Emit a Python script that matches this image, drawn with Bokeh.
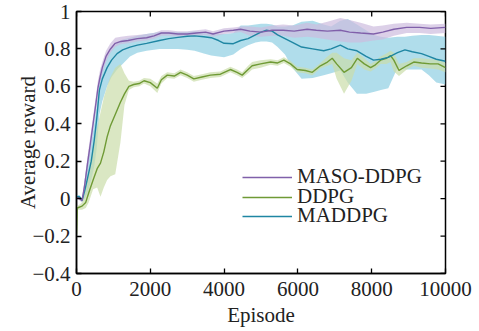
import math
from bokeh.plotting import figure
from bokeh.models import Range1d, FixedTicker, CustomJSTickFormatter, Legend, LegendItem
from bokeh.embed import file_html
from bokeh.resources import INLINE

# ---------------- data ----------------
x_ticks = [0, 2000, 4000, 6000, 8000, 10000]
y_ticks = [-0.4, -0.2, 0, 0.2, 0.4, 0.6, 0.8, 1.0]
series_names = ["MASO-DDPG", "DDPG", "MADDPG"]

maso_ep = [0, 50, 150, 220, 300, 380, 450, 520, 580, 640, 700, 800, 920, 1050, 1200,
           1400, 1650, 1900, 2100, 2300, 2500, 2750, 3000, 3250, 3500, 3700, 4000, 4250,
           4450, 4700, 5000, 5300, 5600, 5900, 6250, 6500, 6800, 7150, 7400, 7700, 8050,
           8300, 8600, 8950, 9300, 9600, 10000]
maso = [0.0, 0.005, -0.01, 0.07, 0.19, 0.30, 0.40, 0.50, 0.59, 0.65, 0.70, 0.76, 0.80, 0.83, 0.84,
        0.845, 0.855, 0.86, 0.87, 0.885, 0.885, 0.88, 0.88, 0.885, 0.89, 0.88, 0.895, 0.90,
        0.905, 0.895, 0.89, 0.90, 0.90, 0.895, 0.905, 0.90, 0.895, 0.90, 0.89, 0.885, 0.88,
        0.89, 0.905, 0.915, 0.915, 0.91, 0.915]
maso_lo = [-0.01, -0.005, -0.02, 0.04, 0.15, 0.26, 0.36, 0.46, 0.55, 0.62, 0.67, 0.73, 0.78, 0.81, 0.825,
           0.83, 0.84, 0.845, 0.855, 0.87, 0.87, 0.865, 0.865, 0.87, 0.875, 0.865, 0.88, 0.885,
           0.89, 0.87, 0.865, 0.87, 0.87, 0.86, 0.865, 0.86, 0.85, 0.84, 0.835, 0.835, 0.845,
           0.85, 0.87, 0.885, 0.885, 0.88, 0.885]
maso_hi = [0.01, 0.015, 0.0, 0.10, 0.23, 0.34, 0.44, 0.54, 0.63, 0.69, 0.73, 0.79, 0.83, 0.86, 0.865,
           0.87, 0.875, 0.88, 0.885, 0.90, 0.90, 0.895, 0.895, 0.90, 0.905, 0.895, 0.91, 0.915,
           0.92, 0.92, 0.915, 0.925, 0.93, 0.925, 0.94, 0.93, 0.945, 0.965, 0.955, 0.94, 0.92,
           0.925, 0.935, 0.94, 0.935, 0.93, 0.935]

ddpg_ep = [0, 20, 150, 250, 330, 450, 560, 650, 740, 830, 920, 1050, 1190, 1300, 1420,
           1550, 1700, 1830, 2000, 2190, 2300, 2460, 2650, 2820, 3000, 3180, 3400, 3630,
           3900, 4170, 4350, 4490, 4650, 4760, 4990, 5260, 5450, 5620, 5800, 5980, 6200,
           6390, 6610, 6800, 6930, 7050, 7250, 7450, 7610, 7800, 7970, 8100, 8240, 8400,
           8510, 8600, 8740, 8950, 9140, 9350, 9590, 9800, 10000]
ddpg = [-0.19, -0.05, -0.04, -0.02, 0.03, 0.10, 0.16, 0.19, 0.25, 0.33, 0.39, 0.45, 0.515, 0.56, 0.60,
        0.61, 0.615, 0.63, 0.62, 0.59, 0.635, 0.66, 0.655, 0.675, 0.66, 0.64, 0.65, 0.66,
        0.665, 0.69, 0.675, 0.66, 0.69, 0.71, 0.72, 0.73, 0.725, 0.74, 0.72, 0.69, 0.685,
        0.675, 0.71, 0.73, 0.75, 0.72, 0.675, 0.70, 0.75, 0.72, 0.70, 0.715, 0.74, 0.75,
        0.765, 0.74, 0.685, 0.71, 0.73, 0.725, 0.72, 0.72, 0.70]
ddpg_lo = [-0.20, -0.06, -0.06, -0.05, -0.02, 0.05, 0.06, 0.01, 0.06, 0.10, 0.12, 0.13, 0.30, 0.50, 0.58,
           0.595, 0.60, 0.615, 0.60, 0.565, 0.615, 0.645, 0.64, 0.66, 0.645, 0.625, 0.635, 0.645,
           0.65, 0.675, 0.66, 0.645, 0.67, 0.69, 0.70, 0.715, 0.71, 0.725, 0.705, 0.675, 0.67,
           0.66, 0.695, 0.71, 0.72, 0.64, 0.56, 0.63, 0.72, 0.69, 0.68, 0.695, 0.72, 0.72,
           0.73, 0.68, 0.655, 0.69, 0.71, 0.70, 0.695, 0.69, 0.675]
ddpg_hi = [-0.18, -0.04, -0.02, 0.05, 0.15, 0.28, 0.38, 0.46, 0.54, 0.60, 0.65, 0.70, 0.72, 0.67, 0.63,
           0.625, 0.63, 0.645, 0.64, 0.615, 0.655, 0.675, 0.67, 0.69, 0.675, 0.655, 0.665, 0.675,
           0.68, 0.705, 0.69, 0.675, 0.71, 0.73, 0.74, 0.745, 0.74, 0.755, 0.735, 0.705, 0.70,
           0.69, 0.725, 0.76, 0.78, 0.78, 0.75, 0.74, 0.78, 0.75, 0.72, 0.735, 0.76, 0.775,
           0.79, 0.78, 0.72, 0.73, 0.75, 0.75, 0.745, 0.745, 0.725]

madd_ep = [0, 80, 150, 220, 300, 400, 480, 550, 620, 700, 830, 950, 1100, 1250, 1450,
           1650, 1900, 2250, 2500, 2750, 3000, 3200, 3450, 3650, 3850, 4000, 4250, 4450,
           4650, 4850, 5000, 5150, 5300, 5450, 5650, 5850, 6100, 6400, 6700, 6900, 7150,
           7350, 7600, 7850, 8050, 8250, 8450, 8700, 8900, 9100, 9350, 9550, 9750, 10000]
madd = [0.01, 0.01, -0.01, 0.04, 0.11, 0.20, 0.31, 0.43, 0.58, 0.64, 0.70, 0.74, 0.775, 0.795, 0.81,
        0.82, 0.83, 0.845, 0.855, 0.862, 0.868, 0.87, 0.865, 0.86, 0.845, 0.83, 0.828, 0.845,
        0.855, 0.875, 0.89, 0.90, 0.895, 0.875, 0.855, 0.835, 0.81, 0.80, 0.79, 0.80, 0.82,
        0.80, 0.79, 0.76, 0.74, 0.745, 0.755, 0.78, 0.795, 0.785, 0.775, 0.76, 0.745, 0.734]
madd_lo = [0.0, 0.0, -0.02, 0.0, 0.03, 0.10, 0.17, 0.27, 0.45, 0.52, 0.60, 0.65, 0.69, 0.72, 0.76,
           0.78, 0.79, 0.80, 0.80, 0.80, 0.795, 0.79, 0.775, 0.765, 0.76, 0.755, 0.77, 0.80,
           0.82, 0.835, 0.84, 0.84, 0.835, 0.81, 0.77, 0.70, 0.64, 0.645, 0.66, 0.67, 0.685,
           0.62, 0.56, 0.56, 0.57, 0.58, 0.59, 0.70, 0.69, 0.69, 0.69, 0.66, 0.62, 0.61]
madd_hi = [0.02, 0.02, 0.0, 0.10, 0.20, 0.30, 0.40, 0.50, 0.62, 0.69, 0.76, 0.80, 0.83, 0.85, 0.86,
           0.87, 0.88, 0.89, 0.89, 0.89, 0.89, 0.895, 0.89, 0.885, 0.88, 0.88, 0.885, 0.925,
           0.925, 0.93, 0.935, 0.935, 0.93, 0.92, 0.92, 0.925, 0.945, 0.95, 0.93, 0.92, 0.95,
           0.96, 0.93, 0.90, 0.875, 0.865, 0.86, 0.865, 0.865, 0.87, 0.875, 0.875, 0.87, 0.865]

# ---------------- styling ----------------
FONT = "Liberation Serif"
FS = "21px"
TXT = "#222222"
line_colors = {"MASO-DDPG": "#8060aa", "DDPG": "#6f9a35", "MADDPG": "#1f86a3"}
band_colors = {"MASO-DDPG": "#cdbcde", "DDPG": "#cadda9", "MADDPG": "#8fcfe2"}

X0, X1 = 0, 10000
Y0, Y1 = -0.4, 1.0

p = figure(frame_width=369, frame_height=262, output_backend="svg", toolbar_location=None,
           x_range=Range1d(X0, X1), y_range=Range1d(Y0, Y1),
           min_border_left=76, min_border_right=30, min_border_top=11, min_border_bottom=56)
p.grid.visible = False
p.outline_line_color = "black"
p.outline_line_width = 1.5
p.background_fill_color = "white"
p.border_fill_color = "white"

# bands
p.varea(x=madd_ep, y1=madd_lo, y2=madd_hi, fill_color=band_colors["MADDPG"], fill_alpha=0.7)
p.varea(x=ddpg_ep, y1=ddpg_lo, y2=ddpg_hi, fill_color=band_colors["DDPG"], fill_alpha=0.7)
p.varea(x=maso_ep, y1=maso_lo, y2=maso_hi, fill_color=band_colors["MASO-DDPG"], fill_alpha=0.7)

# lines
r_ddpg = p.line(ddpg_ep, ddpg, line_color=line_colors["DDPG"], line_width=1.4)
r_madd = p.line(madd_ep, madd, line_color=line_colors["MADDPG"], line_width=1.4)
r_maso = p.line(maso_ep, maso, line_color=line_colors["MASO-DDPG"], line_width=1.4)

# inward ticks on the top and right edges (clipped to the frame -> half visible)
p.scatter(x=x_ticks, y=[Y1] * len(x_ticks), marker="dash", angle=math.pi / 2, size=10,
          line_color="black", line_width=1.3)
p.scatter(x=[X1] * len(y_ticks), y=y_ticks, marker="dash", angle=0, size=10,
          line_color="black", line_width=1.3)

# axes
fmt = CustomJSTickFormatter(code="""
const v = Math.round(tick*10)/10;
return (v < 0 ? "\u2212" : "") + Math.abs(v).toString();
""")

for ax in (p.xaxis[0], p.yaxis[0]):
    ax.major_tick_in = 5
    ax.major_tick_out = 0
    ax.minor_tick_in = 0
    ax.minor_tick_out = 0
    ax.axis_line_color = "black"
    ax.axis_line_width = 1.5
    ax.major_tick_line_width = 1.3
    ax.major_tick_line_color = "black"
    ax.major_label_text_font = FONT
    ax.major_label_text_font_size = FS
    ax.major_label_text_color = TXT
    ax.axis_label_text_font = FONT
    ax.axis_label_text_font_size = FS
    ax.axis_label_text_font_style = "normal"
    ax.axis_label_text_color = TXT

xa = p.xaxis[0]
xa.ticker = FixedTicker(ticks=x_ticks)
xa.axis_label = "Episode"
xa.major_label_standoff = 8
xa.axis_label_standoff = 4

ya = p.yaxis[0]
ya.ticker = FixedTicker(ticks=y_ticks)
ya.formatter = fmt
ya.axis_label = "Average reward"
ya.major_label_standoff = 6
ya.axis_label_standoff = -11

# legend: one row per entry so the row pitch matches the reference
rows = [(series_names[0], r_maso, 84), (series_names[1], r_ddpg, 64), (series_names[2], r_madd, 45)]
for name, rend, ybot in rows:
    lg = Legend(items=[LegendItem(label=name, renderers=[rend])],
                location=(166, ybot), glyph_width=50, glyph_height=24, label_height=24,
                label_standoff=5, spacing=0, padding=0, margin=0,
                border_line_alpha=0, background_fill_alpha=0,
                label_text_font=FONT, label_text_font_size=FS, label_text_color=TXT)
    p.add_layout(lg, "center")

open("out.html", "w").write(file_html(p, INLINE))
